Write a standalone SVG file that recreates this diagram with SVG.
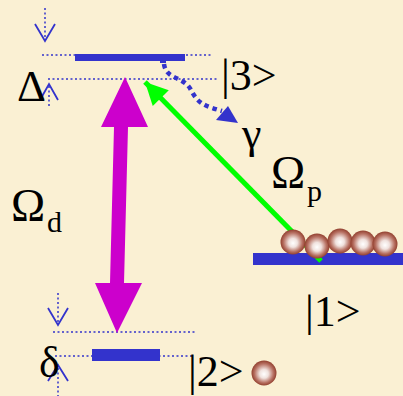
<svg xmlns="http://www.w3.org/2000/svg" width="403" height="396" viewBox="0 0 403 396">
  <style>
    .lvl { fill: #3333cc; }
    .dot { stroke: #3333cc; stroke-width: 1.5; stroke-dasharray: 2 2.5; fill: none; }
    .chev { stroke: #3333cc; stroke-width: 1.8; fill: none; }
    .t { font-family: "Liberation Serif", "Times New Roman", serif; fill: #000; }
  </style>
  <defs>
    <radialGradient id="atom" cx="0.5" cy="0.5" r="0.5" fx="0.5" fy="0.55">
      <stop offset="0" stop-color="#ffffff"/>
      <stop offset="0.35" stop-color="#f0e2de"/>
      <stop offset="0.75" stop-color="#b87264"/>
      <stop offset="1" stop-color="#923f2e"/>
    </radialGradient>
    <marker id="gHead" viewBox="0 0 10 10" refX="10" refY="5" markerWidth="5" markerHeight="4.5" markerUnits="strokeWidth" orient="auto">
      <path d="M0,0 L10,5 L0,10 Z" fill="#00ff00"/>
    </marker>
  </defs>

  <!-- background -->
  <rect width="403" height="396" fill="#faf0d3"/>

  <!-- reference guides -->
  <g id="guides">
    <line class="dot" x1="42" y1="55" x2="212" y2="55"/>
    <line class="dot" x1="48" y1="79" x2="218" y2="79"/>
    <line class="dot" x1="53" y1="332" x2="196" y2="332"/>
    <line class="dot" x1="55" y1="356" x2="192" y2="356"/>
    <!-- detuning Δ markers -->
    <line class="dot" x1="45" y1="8" x2="45" y2="40"/>
    <polyline class="chev" points="35,24 45,41 55,24"/>
    <line class="dot" x1="49" y1="86" x2="49" y2="106"/>
    <polyline class="chev" points="40,100 49,84 58,100"/>
    <!-- detuning δ markers -->
    <line class="dot" x1="58" y1="293" x2="58" y2="324"/>
    <polyline class="chev" points="48,308 58,325 68,308"/>
    <line class="dot" x1="58" y1="368" x2="58" y2="396"/>
    <polyline class="chev" points="48,381 58,365 68,381"/>
  </g>

  <!-- energy levels -->
  <g id="level3">
    <rect class="lvl" x="75" y="54" width="110" height="7"/>
    <rect class="lvl" x="160" y="60" width="6" height="3"/>
    <text class="t" x="221" y="90" font-size="44">|3&gt;</text>
  </g>
  <g id="level2">
    <rect class="lvl" x="92" y="349" width="68" height="12"/>
    <text class="t" x="188" y="386" font-size="44">|2&gt;</text>
    <circle cx="264" cy="373" r="12.5" fill="url(#atom)"/>
  </g>
  <g id="level1">
    <rect class="lvl" x="253" y="253" width="150" height="12"/>
    <text class="t" x="305" y="326" font-size="44">|1&gt;</text>
  </g>

  <!-- transitions -->
  <g id="connectors">
    <!-- drive field Ωd (two-headed) -->
    <polygon fill="#cc00cc" points="125,77 148,127 128,127 124,283 142,283 117,333 95,283 110,283 114,127 101,127"/>
    <!-- probe field Ωp -->
    <line x1="321" y1="261" x2="145" y2="82" stroke="#00ff00" stroke-width="5" marker-end="url(#gHead)"/>
    <!-- spontaneous decay γ -->
    <path d="M164,64 C166,80 184,76 191,90 S205,106 222,111" fill="none" stroke="#3333cc" stroke-width="4.5" stroke-dasharray="4.5 4"/>
    <polygon fill="#3333cc" points="238,123 216,120 228,106"/>
  </g>

  <!-- atoms in ground state -->
  <g id="atoms">
    <circle cx="293" cy="242" r="12.5" fill="url(#atom)"/>
    <circle cx="317" cy="246" r="12.5" fill="url(#atom)"/>
    <circle cx="340" cy="241" r="12.5" fill="url(#atom)"/>
    <circle cx="363" cy="243" r="12.5" fill="url(#atom)"/>
    <circle cx="385" cy="244" r="12.5" fill="url(#atom)"/>
  </g>

  <!-- labels -->
  <g id="labels">
    <text class="t" x="17" y="101" font-size="45">Δ</text>
    <text class="t" x="242" y="148" font-size="44">γ</text>
    <text class="t" x="271" y="188" font-size="46">Ω</text>
    <text class="t" x="307" y="201" font-size="30">p</text>
    <text class="t" x="11" y="221" font-size="46">Ω</text>
    <text class="t" x="47" y="232" font-size="30">d</text>
    <text class="t" x="39" y="377" font-size="44">δ</text>
  </g>
</svg>
